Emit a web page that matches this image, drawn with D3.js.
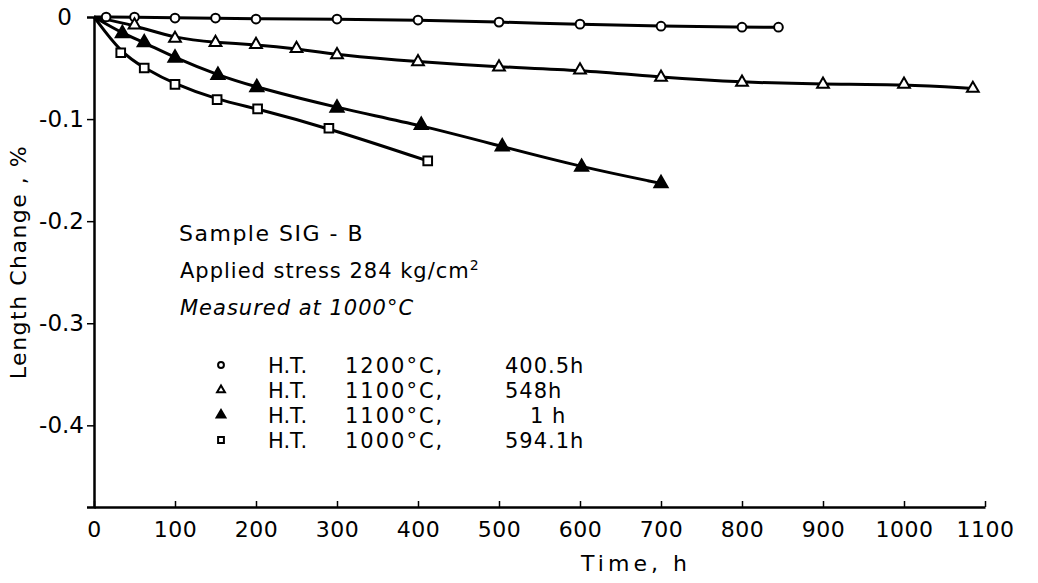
<!DOCTYPE html>
<html>
<head>
<meta charset="utf-8">
<script src="https://cdn.jsdelivr.net/npm/d3@7"></script>
<style>
  body { margin: 0; background: #fff; }
  text { font-family: "DejaVu Sans", sans-serif; fill: #000; }
</style>
</head>
<body>
<div id="chart"></div>
<script>
var width = 1038;
var height = 583;

// data (time in h, length change in %)
var origin = [0, 0];
var htTime1200 = [15, 50, 100, 150, 200, 300, 400, 500, 600, 700, 800, 845];
var htVal1200 = [0, 0, -0.001, -0.001, -0.002, -0.002, -0.003, -0.005, -0.007, -0.009, -0.010, -0.010];

var htTime1100 = [50, 100, 150, 200, 250, 300, 400, 500, 600, 700, 800, 900, 1000, 1085];
var htVal1100 = [-0.008, -0.021, -0.025, -0.027, -0.031, -0.037, -0.044, -0.049, -0.052, -0.059, -0.064, -0.066, -0.066, -0.070];

var htTime1100b = [35, 62, 100, 153, 201, 300, 404, 504, 602, 700];
var htVal1100b = [-0.016, -0.025, -0.040, -0.057, -0.069, -0.089, -0.106, -0.127, -0.147, -0.163];

var htTime1000 = [33, 62, 100, 152, 202, 290, 412];
var htVal1000 = [-0.035, -0.050, -0.066, -0.081, -0.090, -0.109, -0.141];

var xTicks = [0, 100, 200, 300, 400, 500, 600, 700, 800, 900, 1000, 1100];
var yTicks = [0, -0.1, -0.2, -0.3, -0.4];

var legendLabels = [
  ["H.T.", "1200°C,", "400.5h"],
  ["H.T.", "1100°C,", "548h"],
  ["H.T.", "1100°C,", "1 h"],
  ["H.T.", "1000°C,", "594.1h"]
];
var markerKinds = ["circle", "triangle", "triangleFilled", "square"];

var series = [
  {t: htTime1200, v: htVal1200},
  {t: htTime1100, v: htVal1100},
  {t: htTime1100b, v: htVal1100b},
  {t: htTime1000, v: htVal1000}
];

var svg = d3.select("#chart")
  .append("svg")
  .attr("width", width)
  .attr("height", height);

var x = d3.scaleLinear().domain([0, 1100]).range([94, 985]);
var y = d3.scaleLinear().domain([-0.48, 0]).range([507, 17]);

// axes
var xAxis = svg.append("g")
  .attr("transform", "translate(0," + y(-0.48) + ")")
  .call(d3.axisBottom(x).tickValues(xTicks).tickSizeInner(-6).tickSizeOuter(0).tickPadding(14)
    .tickFormat(d3.format("d")));
xAxis.select(".domain").attr("stroke-width", 2.5);
xAxis.selectAll(".tick line").attr("stroke-width", 1.5);
xAxis.selectAll(".tick text").attr("font-size", 22).attr("letter-spacing", 0.5);

var yAxis = svg.append("g")
  .attr("transform", "translate(" + x(0) + ",0)")
  .call(d3.axisLeft(y).tickValues(yTicks).tickSizeOuter(0).tickSize(7).tickPadding(3)
    .tickFormat(function(d) { return d === 0 ? "0" : "-" + Math.abs(d).toFixed(1); }));
yAxis.select(".domain").attr("stroke-width", 2.5);
yAxis.selectAll(".tick line").attr("stroke-width", 1.5)
  .filter(function(d) { return d === 0; }).remove();
yAxis.selectAll(".tick text").attr("font-size", 23)
  .filter(function(d) { return d === 0; }).attr("dx", -12);

// axis titles
svg.append("text")
  .attr("x", 636).attr("y", 571)
  .attr("text-anchor", "middle")
  .attr("font-size", 22)
  .attr("letter-spacing", 4)
  .text("Time,  h");

svg.append("text")
  .attr("transform", "translate(26,262) rotate(-90)")
  .attr("text-anchor", "middle")
  .attr("font-size", 22)
  .attr("letter-spacing", 1.5)
  .text("Length  Change , %");

// curves
var line = d3.line()
  .x(function(d) { return x(d[0]); })
  .y(function(d) { return y(d[1]); })
  .curve(d3.curveBasis);

series.forEach(function(s) {
  var pts = [origin].concat(s.t.map(function(t, i) { return [t, s.v[i]]; }));
  svg.append("path")
    .attr("d", line(pts))
    .attr("fill", "none")
    .attr("stroke", "#000")
    .attr("stroke-width", 3);
});

function drawMarker(g, kind, cx, cy, scale) {
  var sym, fill = "#fff";
  if (kind === "circle") sym = d3.symbol(d3.symbolCircle, 60 * scale);
  if (kind === "triangle") sym = d3.symbol(d3.symbolTriangle, 60 * scale);
  if (kind === "triangleFilled") { sym = d3.symbol(d3.symbolTriangle, 75 * scale); fill = "#000"; }
  if (kind === "square") sym = d3.symbol(d3.symbolSquare, 75 * scale);
  g.append("path")
    .attr("d", sym())
    .attr("transform", "translate(" + cx + "," + cy + ")")
    .attr("fill", fill)
    .attr("stroke", "#000")
    .attr("stroke-width", 2);
}

series.forEach(function(s, k) {
  s.t.forEach(function(t, i) {
    drawMarker(svg, markerKinds[k], x(t), y(s.v[i]), 1);
  });
});

// annotation block
svg.append("text").attr("x", 179).attr("y", 241).attr("font-size", 22)
  .attr("letter-spacing", 1.5).text("Sample  SIG - B");
var stress = svg.append("text").attr("x", 180).attr("y", 278).attr("font-size", 21)
  .attr("letter-spacing", 1);
stress.append("tspan").text("Applied stress 284 kg/cm");
stress.append("tspan").attr("dy", -8).attr("font-size", 14).text("2");
svg.append("text").attr("x", 180).attr("y", 315).attr("font-size", 21)
  .attr("font-style", "italic").attr("letter-spacing", 1).text("Measured at 1000°C");

legendLabels.forEach(function(lab, i) {
  var yy = 365 + i * 25;
  drawMarker(svg, markerKinds[i], 221, yy, 0.45);
  svg.append("text").attr("x", 268).attr("y", yy + 8).attr("font-size", 21).text(lab[0]);
  svg.append("text").attr("x", 345).attr("y", yy + 8).attr("font-size", 21)
    .attr("letter-spacing", 2).text(lab[1]);
  svg.append("text").attr("x", i === 2 ? 530 : 505).attr("y", yy + 8).attr("font-size", 21)
    .attr("letter-spacing", 1).text(lab[2]);
});
</script>
</body>
</html>
